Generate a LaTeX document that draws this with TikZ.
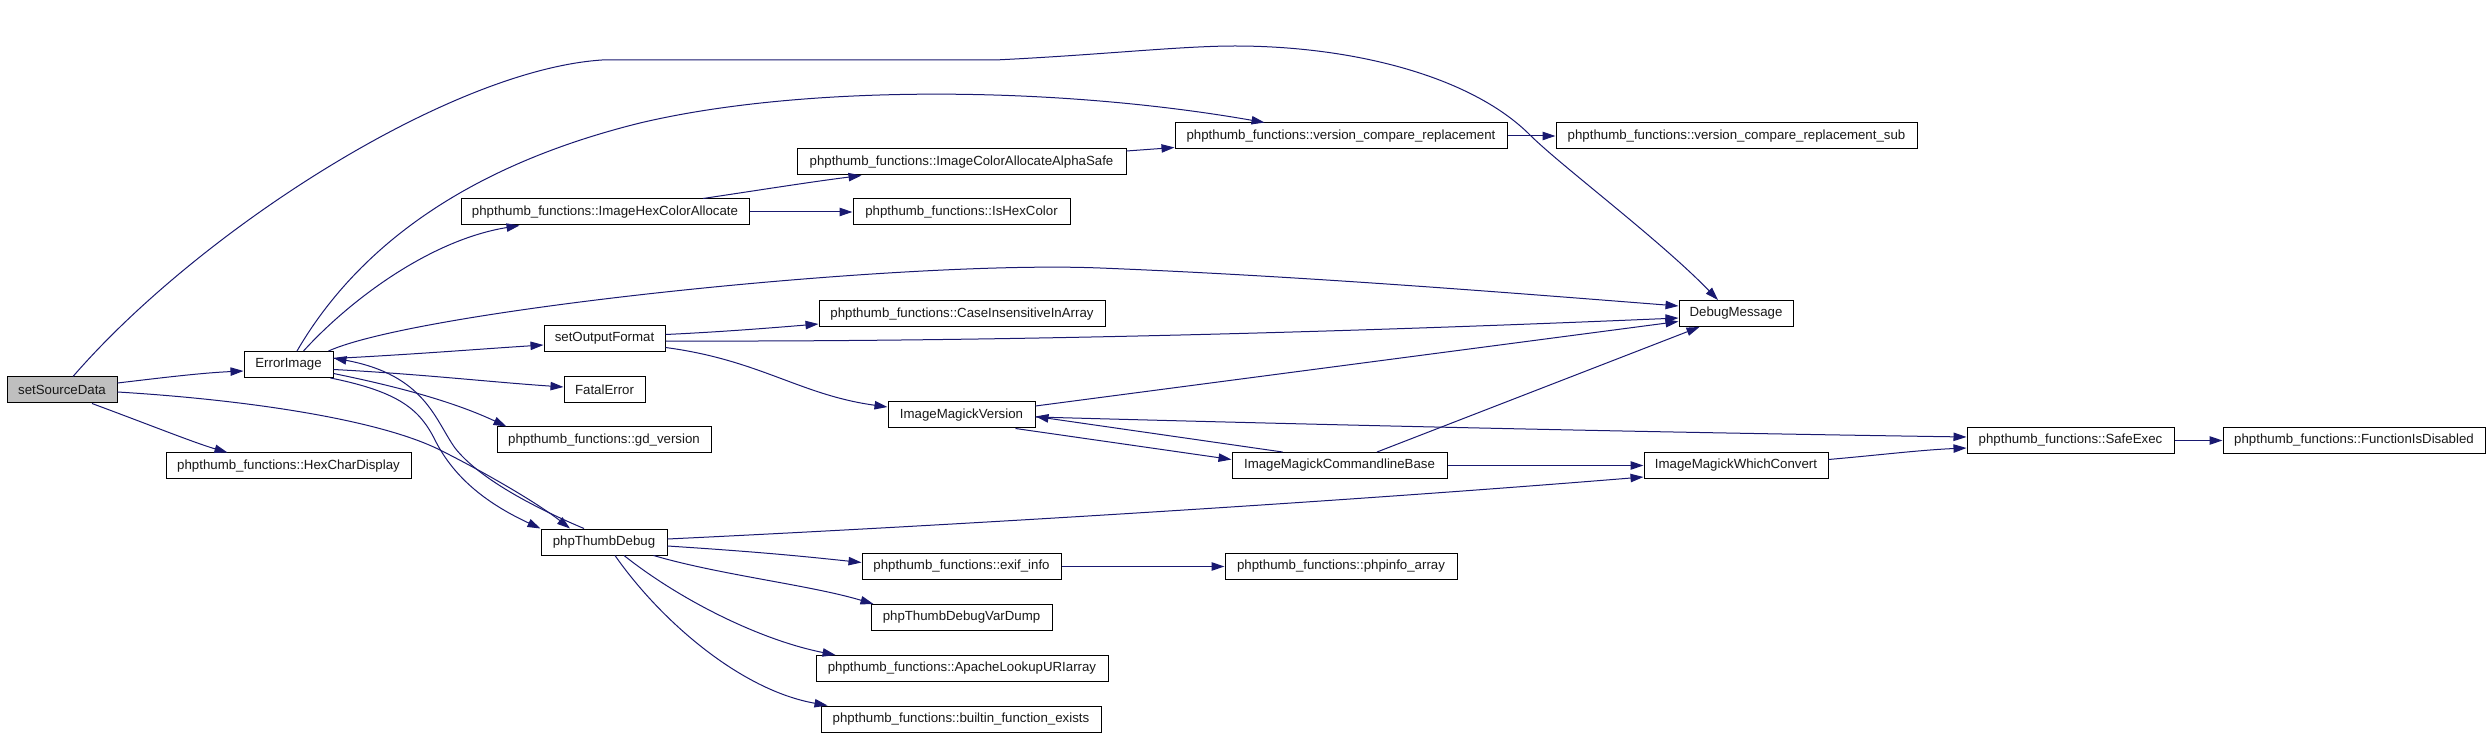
\documentclass[tikz,border=0pt]{standalone}
\usepackage{fontspec}
\setmainfont{Liberation Sans}
\usetikzlibrary{arrows.meta,calc}
\definecolor{edgec}{HTML}{191970}
\definecolor{ssfill}{HTML}{BFBFBF}
\begin{document}
\begin{tikzpicture}[x=0.5pt,y=-0.5pt,
  box/.style={draw=black, line width=0.5pt, fill=white, rectangle, inner sep=0pt, minimum height=13pt, font=\fontsize{6.63}{8}\selectfont, text=black!90},
  bw/.style={minimum width=#1*0.5pt},
  edge/.style={draw=edgec, line width=0.5pt, -{Triangle[length=6.5pt,width=4.2pt]}}]
\useasboundingbox[fill=white] (0,0) rectangle (2490,737);

% nodes
\node[box,bw=110,fill=ssfill] (ss) at (62,390) {setSourceData};
\node[box,bw=89] (ei) at (288.5,364.5) {ErrorImage};
\node[box,bw=245] (hcd) at (288.5,466) {phpthumb\_functions::HexCharDisplay};
\node[box,bw=288] (hca) at (605,212) {phpthumb\_functions::ImageHexColorAllocate};
\node[box,bw=329] (cas) at (961.5,162) {phpthumb\_functions::ImageColorAllocateAlphaSafe};
\node[box,bw=332] (vcr) at (1341,136) {phpthumb\_functions::version\_compare\_replacement};
\node[box,bw=361] (vcs) at (1736.5,136) {phpthumb\_functions::version\_compare\_replacement\_sub};
\node[box,bw=217] (ihc) at (961.5,212) {phpthumb\_functions::IsHexColor};
\node[box,bw=114] (dm) at (1736,313.5) {DebugMessage};
\node[box,bw=286] (cia) at (962,314) {phpthumb\_functions::CaseInsensitiveInArray};
\node[box,bw=121] (sof) at (604.5,338.5) {setOutputFormat};
\node[box,bw=81] (fe) at (604.5,390) {FatalError};
\node[box,bw=214] (gd) at (604,440) {phpthumb\_functions::gd\_version};
\node[box,bw=147] (imv) at (961.5,415) {ImageMagickVersion};
\node[box,bw=215] (clb) at (1339.5,465.5) {ImageMagickCommandlineBase};
\node[box,bw=184] (wc) at (1736,465.5) {ImageMagickWhichConvert};
\node[box,bw=207] (se) at (2070.5,440.5) {phpthumb\_functions::SafeExec};
\node[box,bw=262] (fid) at (2354,440.5) {phpthumb\_functions::FunctionIsDisabled};
\node[box,bw=126] (ptd) at (604,542) {phpThumbDebug};
\node[box,bw=199] (exif) at (961.5,566.5) {phpthumb\_functions::exif\_info};
\node[box,bw=232] (pia) at (1341,566.5) {phpthumb\_functions::phpinfo\_array};
\node[box,bw=181] (vd) at (961.5,617.5) {phpThumbDebugVarDump};
\node[box,bw=292] (apa) at (962,668.5) {phpthumb\_functions::ApacheLookupURIarray};
\node[box,bw=280] (bfe) at (961,719) {phpthumb\_functions::builtin\_function\_exists};

% setSourceData edges
\draw[edge] ($(ss.east)+(0,-7)$) .. controls (160,378) and (200,373) .. ($(ei.west)+(0,6.5)$);
\draw[edge] ($(ss.south)+(30,0)$) .. controls (150,425) and (195,443) .. ($(hcd.north)+(-61,0)$);
\draw[edge] ($(ss.east)+(0,2)$) .. controls (250,400) and (380,420) .. (440,450) .. controls (490,475) and (540,505) .. ($(ptd.north)+(-34,0)$);
\draw[edge] ($(ss.north)+(11,0)$) .. controls (200,230) and (450,70) .. (602,60) -- (995,60) .. controls (1100,55) and (1180,46) .. (1235,46) .. controls (1350,46) and (1470,75) .. (1530,135) .. controls (1560,165) and (1660,240) .. ($(dm.north)+(-18,0)$);

% ErrorImage edges
\draw[edge] ($(ei.north)+(8.5,0)$) .. controls (350,260) and (450,170) .. (640,123) .. controls (800,85) and (1050,85) .. ($(vcr.north west)+(90,0)$);
\draw[edge] ($(ei.north)+(15,0)$) .. controls (350,300) and (430,240) .. ($(hca.south west)+(59,0)$);
\draw[edge] ($(ei.north east)+(-5,0)$) .. controls (420,310) and (900,260) .. (1100,268) .. controls (1300,276) and (1500,292) .. ($(dm.west)+(0,-7.5)$);
\draw[edge] ($(ei.east)+(0,-6)$) .. controls (420,354) and (480,349) .. ($(sof.west)+(0,6.5)$);
\draw[edge] ($(ei.east)+(0,5)$) .. controls (420,374) and (490,382) .. ($(fe.west)+(0,-3)$);
\draw[edge] ($(ei.east)+(0,9)$) .. controls (390,385) and (450,400) .. ($(gd.north west)+(10,0)$);
\draw[edge] ($(ei.south east)+(-3,0)$) .. controls (400,392) and (420,410) .. (435,440) .. controls (455,480) and (490,505) .. (ptd.north west);

% phpThumbDebug edges
\draw[edge] ($(ptd.north)+(-20,0)$) .. controls (540,510) and (480,480) .. (455,448) .. controls (435,420) and (425,375) .. ($(ei.east)+(0,-6.5)$);
\draw[edge] ($(ptd.east)+(0,-3)$) .. controls (900,528) and (1300,505) .. ($(wc.south west)+(0,-2)$);
\draw[edge] ($(ptd.east)+(0,4)$) .. controls (760,552) and (800,556) .. ($(exif.west)+(0,-4)$);
\draw[edge] ($(ptd.south east)+(-14,0)$) .. controls (720,575) and (810,585) .. ($(vd.north west)+(3,0)$);
\draw[edge] ($(ptd.south)+(20,0)$) .. controls (680,600) and (760,640) .. ($(apa.north west)+(20,0)$);
\draw[edge] ($(ptd.south)+(11,0)$) .. controls (660,620) and (740,690) .. ($(bfe.north west)+(7,0)$);
\draw[edge] (exif) -- (pia);

% setOutputFormat edges
\draw[edge] ($(sof.east)+(0,-4)$) .. controls (720,332) and (770,328) .. ($(cia.west)+(0,10)$);
\draw[edge] ($(sof.east)+(0,2.5)$) .. controls (1000,342) and (1350,332) .. ($(dm.west)+(0,4.5)$);
\draw[edge] ($(sof.east)+(0,9)$) .. controls (760,360) and (800,395) .. ($(imv.west)+(0,-8)$);

% ImageMagick edges
\draw[edge] ($(imv.east)+(0,-9)$) -- ($(dm.west)+(0,8)$);
\draw[edge] ($(imv.south east)+(-20,0)$) -- ($(clb.west)+(0,-6)$);
\draw[edge] ($(imv.east)+(0,2)$) .. controls (1400,427) and (1700,433) .. ($(se.west)+(0,-3.5)$);
\draw[edge] ($(clb.north west)+(51,0)$) -- ($(imv.east)+(0,1.5)$);
\draw[edge] ($(clb.north)+(37.5,0)$) -- ($(dm.south west)+(21,0)$);
\draw[edge] (clb) -- (wc);
\draw[edge] ($(wc.east)+(0,-6)$) .. controls (1880,455) and (1920,450) .. ($(se.west)+(0,7.5)$);
\draw[edge] (se) -- (fid);

% colour allocation edges
\draw[edge] ($(hca.north)+(98,0)$) .. controls (760,190) and (810,182) .. ($(cas.south west)+(65,0)$);
\draw[edge] (hca) -- (ihc);
\draw[edge] ($(cas.east)+(0,-11)$) -- ($(vcr.south west)+(0,-2)$);
\draw[edge] (vcr) -- (vcs);
\end{tikzpicture}
\end{document}
